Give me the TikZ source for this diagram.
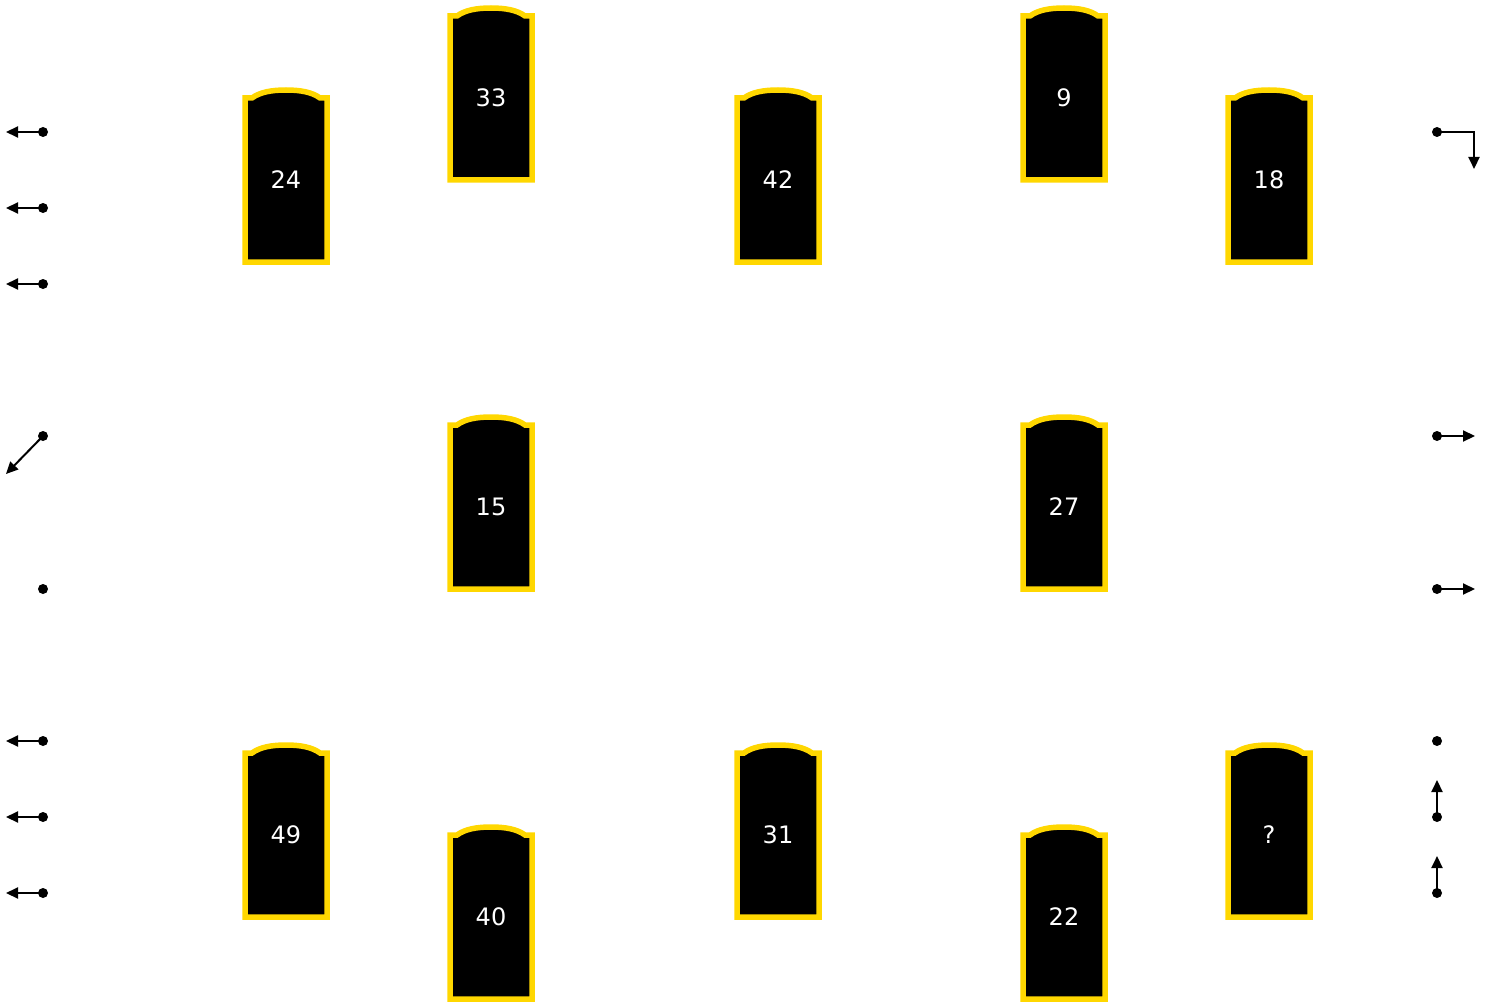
\documentclass[tikz,border=0pt]{standalone}
\usepackage{fontspec}
\setmainfont{DejaVu Sans}
\usetikzlibrary{arrows.meta, calc}
\definecolor{framegold}{RGB}{255,215,0}
\tikzset{
    doorframe/.style={draw=framegold, fill=black, line width=5.5pt, line join=miter},
    doorlabel/.style={text=white, font=\fontsize{24}{28}\selectfont, inner sep=0pt},
    dot/.style={circle, fill=black, minimum size=10pt, inner sep=0pt},
    move/.style={-{Triangle[length=12pt,width=11pt]}, line width=2pt, black},
}
% door card: name, x, y, label
\newcommand{\doorcard}[4]{%
  \draw[doorframe] (#2-41,#3+82) -- (#2-41,#3-82) -- (#2-34,#3-82)
    .. controls (#2-26,#3-88) and (#2-14,#3-90) .. (#2,#3-90)
    .. controls (#2+14,#3-90) and (#2+26,#3-88) .. (#2+34,#3-82)
    -- (#2+41,#3-82) -- (#2+41,#3+82) -- cycle;
  \node[doorlabel] (#1) at (#2,#3) {#4};}

\begin{document}
\begin{tikzpicture}[x=1pt, y=-1pt]
\useasboundingbox (0,0) rectangle (1490,1003);

% top row
\doorcard{d24}{286}{180}{24}
\doorcard{d33}{491}{98}{33}
\doorcard{d42}{778}{180}{42}
\doorcard{d9}{1064}{98}{9}
\doorcard{d18}{1269}{180}{18}

% middle row
\doorcard{d15}{491}{507}{15}
\doorcard{d27}{1064}{507}{27}

% bottom row
\doorcard{d49}{286}{835}{49}
\doorcard{d40}{491}{917}{40}
\doorcard{d31}{778}{835}{31}
\doorcard{d22}{1064}{917}{22}
\doorcard{dq}{1269}{835}{?}

% left markers
\node[dot] (la) at (43,132) {};
\node[dot] (lb) at (43,208) {};
\node[dot] (lc) at (43,284) {};
\node[dot] (ld) at (43,436) {};
\node[dot] (le) at (43,589) {};
\node[dot] (lf) at (43,741) {};
\node[dot] (lg) at (43,817) {};
\node[dot] (lh) at (43,893) {};
\coordinate (la-end) at (6,132);
\coordinate (lb-end) at (6,208);
\coordinate (lc-end) at (6,284);
\coordinate (ld-end) at (6,474);
\coordinate (lf-end) at (6,741);
\coordinate (lg-end) at (6,817);
\coordinate (lh-end) at (6,893);
\draw[move] (la.center) -- (la-end);
\draw[move] (lb.center) -- (lb-end);
\draw[move] (lc.center) -- (lc-end);
\draw[move] (ld.center) -- (ld-end);
\draw[move] (lf.center) -- (lf-end);
\draw[move] (lg.center) -- (lg-end);
\draw[move] (lh.center) -- (lh-end);

% right markers
\node[dot] (ra) at (1437,132) {};
\node[dot] (rb) at (1437,436) {};
\node[dot] (rc) at (1437,589) {};
\node[dot] (rd) at (1437,741) {};
\node[dot] (re) at (1437,817) {};
\node[dot] (rf) at (1437,893) {};
\coordinate (ra-end) at (1474,169);
\coordinate (rb-end) at (1475,436);
\coordinate (rc-end) at (1475,589);
\coordinate (re-end) at (1437,780);
\coordinate (rf-end) at (1437,856);
\draw[move] (ra.center) -| (ra-end);
\draw[move] (rb.center) -- (rb-end);
\draw[move] (rc.center) -- (rc-end);
\draw[move] (re.center) -- (re-end);
\draw[move] (rf.center) -- (rf-end);

\end{tikzpicture}
\end{document}
